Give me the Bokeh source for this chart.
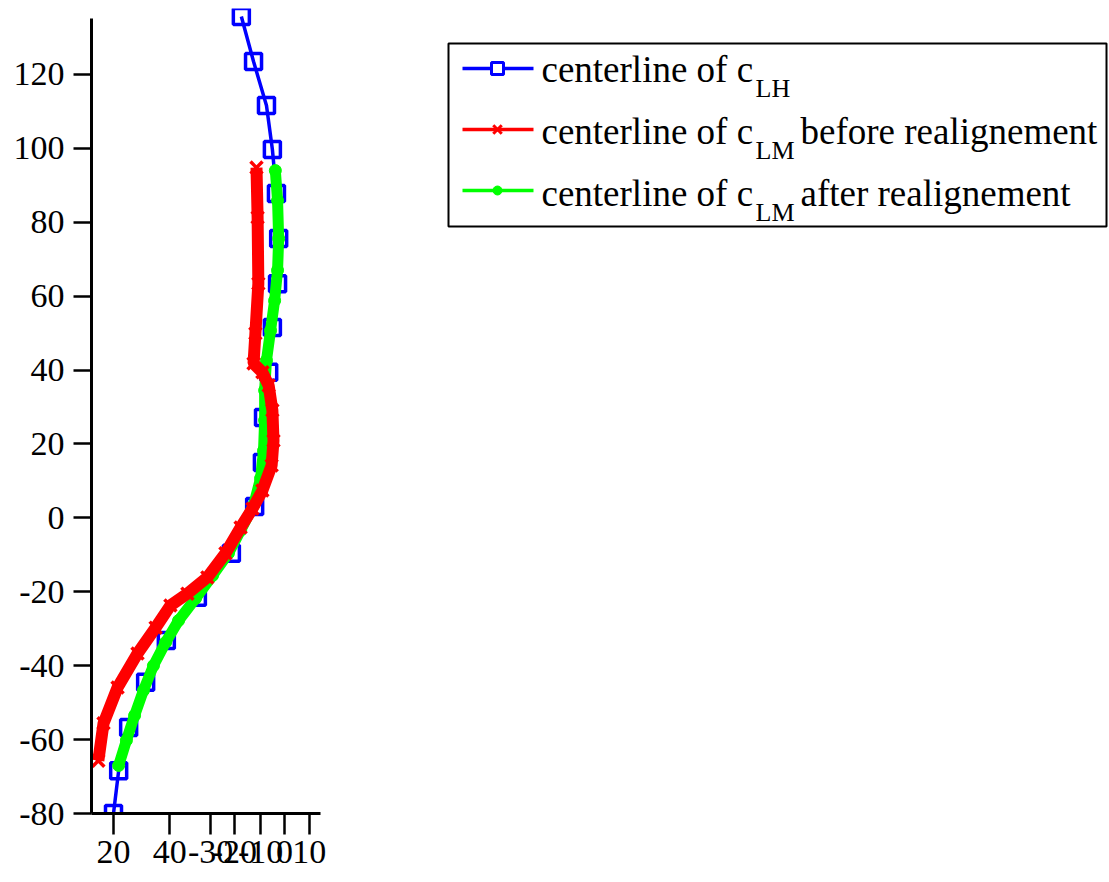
from bokeh.plotting import figure
from bokeh.models import Range1d, FixedTicker
from bokeh.core.properties import value
from bokeh.embed import file_html
from bokeh.resources import INLINE

# ---- data (projected horizontal coordinate, height) ----
lh_x = [34.6, 37.9, 41.4, 43.0, 44.1, 44.7, 44.4, 43.0, 42.0, 40.6, 40.3, 38.2,
        31.9, 22.7, 14.3, 8.7, 4.1, 1.4, 0.0]
lh_y = [135.7, 123.5, 111.6, 99.7, 87.8, 75.6, 63.4, 51.5, 39.4, 27.2, 15.0, 3.1,
        -9.6, -21.5, -33.2, -44.5, -56.7, -68.4, -80.0]

before_x = [38.7, 39.0, 39.2, 38.4, 37.9, 40.3, 42.0, 43.0, 43.3, 42.8, 40.3, 37.6,
            34.4, 30.3, 25.4, 20.0, 15.4, 11.4, 6.5, 1.1, -2.7, -4.1]
before_y = [94.8, 81.3, 63.4, 49.9, 41.8, 39.4, 35.8, 29.1, 20.9, 14.2, 7.4, 2.5,
            -2.6, -9.6, -16.1, -20.5, -23.7, -29.7, -36.7, -45.9, -55.6, -65.7]

after_x = [43.8, 44.4, 44.7, 44.4, 43.6, 42.5, 41.4, 40.9, 40.9, 40.6, 39.8, 37.9,
           34.4, 31.1, 26.8, 22.2, 17.6, 14.1, 10.8, 8.1, 5.7, 3.5, 1.4]
after_y = [94.0, 85.9, 75.6, 67.0, 58.8, 50.7, 42.6, 34.5, 26.4, 18.2, 10.7, 3.4,
           -3.4, -9.6, -15.6, -21.8, -27.8, -33.7, -40.0, -46.7, -53.5, -60.2, -67.0]

y_ticks = [-80, -60, -40, -20, 0, 20, 40, 60, 80, 100, 120]
y_tick_labels = ["-80", "-60", "-40", "-20", "0", "20", "40", "60", "80", "100", "120"]
x_ticks = [0.0, 15.2, 26.3, 32.7, 39.8, 46.3, 53.0]
x_tick_labels = ["20", "40", "-30", "-20", "-10", "0", "10"]

legend_main = ["centerline of c", "centerline of c", "centerline of c"]
legend_sub = ["LH", "LM", "LM"]
legend_tail = ["", "before realignement", "after realignement"]

BLUE, RED, GREEN = "#0000FF", "#FF0000", "#00FF00"
FONT = "'Liberation Serif'"
SERIF = value(FONT)

p = figure(width=1109, height=882,
           x_range=Range1d(-5.954, 269.55), y_range=Range1d(-80, 137.86),
           output_backend="svg", toolbar_location=None,
           min_border_left=91, min_border_right=0, min_border_top=8, min_border_bottom=69)
p.outline_line_color = None
p.grid.visible = False
p.background_fill_color = "white"

p.extra_x_ranges = {"px": Range1d(91, 1109)}
p.extra_y_ranges = {"py": Range1d(813, 8)}

# axes
for ax in (p.xaxis[0], p.yaxis[0]):
    ax.axis_line_width = 3
    ax.major_tick_line_width = 2.5
    ax.minor_tick_line_color = None
    ax.major_tick_in = 0
    ax.major_label_text_font = FONT
    ax.major_label_text_font_size = "34px"
    ax.major_label_text_color = "black"
    ax.axis_line_color = "black"
    ax.major_tick_line_color = "black"

p.yaxis.ticker = FixedTicker(ticks=y_ticks)
p.yaxis.major_label_overrides = {t: l for t, l in zip(y_ticks, y_tick_labels)}
p.yaxis.major_tick_out = 18
p.yaxis.major_label_standoff = 9
p.yaxis.bounds = (-80, 135.2)

p.xaxis.ticker = FixedTicker(ticks=x_ticks)
p.xaxis.major_label_overrides = {t: l for t, l in zip(x_ticks, x_tick_labels)}
p.xaxis.major_tick_out = 21
p.xaxis.major_label_standoff = 6
p.xaxis.bounds = (-5.954, 56.0)

# series
p.line(lh_x, lh_y, color=BLUE, line_width=3.5)
p.scatter(lh_x, lh_y, marker="square", size=16, line_color=BLUE, line_width=3.5, fill_color=None)

p.line(after_x, after_y, color=GREEN, line_width=11)
p.scatter(after_x, after_y, marker="circle", size=12, color=GREEN)

p.line(before_x, before_y, color=RED, line_width=12)
p.scatter(before_x, before_y, marker="x", size=17, line_color=RED, line_width=3.5)

# hand-built legend (pixel coordinates via extra ranges)
kw = dict(x_range_name="px", y_range_name="py")
p.quad(left=[448], right=[1106], top=[43], bottom=[226], fill_color="white",
       line_color="black", line_width=2, **kw)
rows = [68, 129, 190]
base = [69, 131, 193]
colors = [BLUE, RED, GREEN]
for r, c in zip(rows, colors):
    p.segment(x0=[462], x1=[533], y0=[r], y1=[r], line_color=c, line_width=3.5, **kw)
p.scatter([497], [rows[0]], marker="square", size=12, line_color=BLUE, line_width=3, fill_color="white", **kw)
p.scatter([497], [rows[1]], marker="x", size=12, line_color=RED, line_width=3, **kw)
p.scatter([497], [rows[2]], marker="circle", size=9, color=GREEN, **kw)

p.text(x=[541] * 3, y=base, text=legend_main, text_font=SERIF, text_font_size="37px",
       text_baseline="alphabetic", text_align="left", text_color="black", **kw)
p.text(x=[755] * 3, y=[b + 19 for b in base], text=legend_sub, text_font=SERIF,
       text_font_size="26px", text_baseline="alphabetic", text_align="left", text_color="black", **kw)
p.text(x=[800] * 3, y=base, text=legend_tail, text_font=SERIF, text_font_size="37px",
       text_baseline="alphabetic", text_align="left", text_color="black", **kw)

open("out.html", "w").write(file_html(p, INLINE))
